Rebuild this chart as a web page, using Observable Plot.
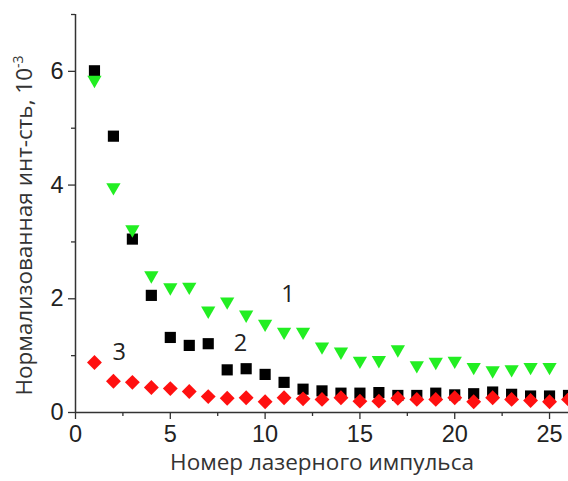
<!DOCTYPE html>
<html>
<head>
<meta charset="utf-8">
<script src="https://cdn.jsdelivr.net/npm/d3@7"></script>
<script src="https://cdn.jsdelivr.net/npm/@observablehq/plot@0.6"></script>
<style>
  html, body { margin: 0; padding: 0; background: #fff; }
</style>
</head>
<body>
<div id="chart"></div>
<script>
const pulses = d3.range(1, 27);
// curve 1 — green down-triangles
const series1 = [5.85, 3.96, 3.22, 2.41, 2.20, 2.21, 1.79, 1.95, 1.72, 1.56, 1.42, 1.42, 1.16, 1.07, 0.91, 0.92, 1.11, 0.83, 0.89, 0.91, 0.80, 0.74, 0.76, 0.80, 0.80];
// curve 2 — black squares
const series2 = [6.01, 4.86, 3.05, 2.06, 1.32, 1.18, 1.21, 0.75, 0.77, 0.67, 0.53, 0.41, 0.38, 0.34, 0.34, 0.35, 0.30, 0.30, 0.34, 0.31, 0.33, 0.36, 0.32, 0.29, 0.29, 0.30];
// curve 3 — red diamonds
const series3 = [0.88, 0.55, 0.53, 0.44, 0.42, 0.37, 0.28, 0.25, 0.26, 0.19, 0.26, 0.24, 0.23, 0.26, 0.20, 0.20, 0.25, 0.23, 0.23, 0.26, 0.19, 0.26, 0.23, 0.21, 0.19, 0.23];

const xMajor = [0, 5, 10, 15, 20, 25];
const xMinor = [2.5, 7.5, 12.5, 17.5, 22.5];
const yMajor = [0, 2, 4, 6];
const yMinor = [1, 3, 5, 7];

const curveLabels = ["1", "2", "3"];
const curveLabelX = [11.2, 8.7, 2.3];
const curveLabelY = [2.08, 1.21, 1.06];

const xTitle = "Номер лазерного импульса";
const yTitle = "Нормализованная инт-сть, 10";
const yTitleSup = "-3";

const d1 = series1.map((v, i) => ({x: pulses[i], y: v}));
const d2 = series2.map((v, i) => ({x: pulses[i], y: v}));
const d3s = series3.map((v, i) => ({x: pulses[i], y: v}));
const labels = curveLabels.map((t, i) => ({t, x: curveLabelX[i], y: curveLabelY[i]}));

const axisColor = "#333";
const tickFont = "Liberation Sans, Arial, sans-serif";
const titleFont = "Open Sans, Noto Sans, sans-serif";

const chart = Plot.plot({
  width: 568,
  height: 481,
  marginLeft: 75,
  marginRight: 0,
  marginTop: 14,
  marginBottom: 69,
  x: {domain: [0, 26]},
  y: {domain: [0, 7]},
  style: {background: "#fff", overflow: "hidden"},
  marks: [
    Plot.axisX({ticks: xMajor, tickFormat: d3.format("d"), tickSize: 7, tickPadding: 6, stroke: axisColor, strokeWidth: 1.3,
      fontSize: 23.5, fontFamily: tickFont, fill: "#222", label: null, lineAnchor: "top"}),
    Plot.axisX({ticks: xMinor, tickSize: 4, text: null, stroke: axisColor, strokeWidth: 1.3, label: null}),
    Plot.axisY({ticks: yMajor, tickFormat: d3.format("d"), tickSize: 7, tickPadding: 5, stroke: axisColor, strokeWidth: 1.3,
      fontSize: 23.5, fontFamily: tickFont, fill: "#222", label: null}),
    Plot.axisY({ticks: yMinor, tickSize: 4, text: null, stroke: axisColor, strokeWidth: 1.3, label: null}),
    Plot.ruleY([0], {stroke: axisColor, strokeWidth: 1.5}),
    Plot.ruleX([0], {stroke: axisColor, strokeWidth: 1.5}),
    Plot.dot(d2, {x: "x", y: "y", symbol: "square", r: 6.3, fill: "#000", stroke: null}),
    Plot.dot(d1, {x: "x", y: "y", symbol: "triangle", rotate: 180, r: 5.3, fill: "#22ee22", stroke: null}),
    Plot.dot(d3s, {x: "x", y: "y", symbol: "diamond2", r: 6.7, fill: "#ff1010", stroke: null}),
    Plot.text(labels, {x: "x", y: "y", text: "t", fontSize: 23.5, fontFamily: titleFont, fill: "#222"}),
    Plot.text([xTitle], {frameAnchor: "bottom", dy: 57, fontSize: 22.5, fontFamily: titleFont, fill: "#333"}),
    Plot.text([yTitle], {frameAnchor: "left", textAnchor: "middle", rotate: -90, dx: -51, dy: 12, fontSize: 22.5, fontFamily: titleFont, fill: "#333"})
  ]
});

// add the superscript to the y title
d3.select(chart).selectAll("text").each(function() {
  if (this.textContent === yTitle) {
    d3.select(this).append("tspan")
      .attr("baseline-shift", "super")
      .attr("font-size", 14)
      .text(yTitleSup);
  }
});

document.getElementById("chart").appendChild(chart);
</script>
</body>
</html>
